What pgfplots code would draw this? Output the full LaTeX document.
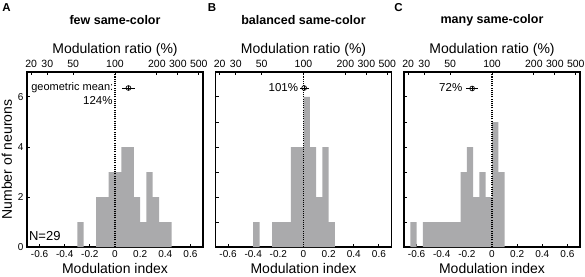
\documentclass[border=0pt]{standalone}
\usepackage{pgfplots}
\pgfplotsset{compat=1.18}
\usepackage{fontspec}
\setmainfont{Liberation Sans}
\definecolor{bargray}{RGB}{170,170,172}
\pgfplotsset{
  panel/.style={scale only axis, width=176pt, height=175pt, anchor=south west,
    xmin=-0.7, xmax=0.7, ymin=0, ymax=7,
    tick align=inside,
    axis line style={line width=1.1pt},
    every tick/.style={black, line width=1pt},
    major tick length=3pt,
    tick label style={font=\fontsize{10}{11}\selectfont},
    label style={font=\fontsize{14}{16}\selectfont},
    xtick={-0.6,-0.4,-0.2,0,0.2,0.4,0.6},
    xticklabels={-0.6,-0.4,-0.2,0,0.2,0.4,0.6},
    xtick pos=left, ytick pos=left,
    xlabel={Modulation index},
    x label style={at={(axis description cs:0.5,-0.122)}, anchor=center},
    clip=false},
  toppanel/.style={scale only axis, width=176pt, height=175pt, anchor=south west,
    xmin=-0.7, xmax=0.7, ymin=0, ymax=7,
    axis x line*=top, axis y line=none, ytick=\empty,
    tick align=inside,
    axis line style={line width=1.1pt, -},
    every tick/.style={black, line width=1pt},
    major tick length=3pt,
    tick label style={font=\fontsize{10.5}{11}\selectfont},
    xticklabel style={yshift=1pt},
    label style={font=\fontsize{14}{16}\selectfont},
    xtick={-0.66667,-0.53846,-0.33333,0,0.33333,0.5,0.66667},
    xticklabels={20,30,50,100,200,300,500},
    xlabel={Modulation ratio (\%)},
    x label style={at={(axis description cs:0.5,1.126)}, anchor=center},
    clip=false},
  hist/.style={ybar interval, fill=bargray, draw=none},
  zline/.style={black, line width=1.1pt, dash pattern=on 1.1pt off 1.1pt},
  gm/.style={black, line width=0.7pt, only marks, mark=o, mark size=2.4pt,
    error bars/.cd, x dir=both, x explicit, error mark=none,
    error bar style={line width=0.7pt}},
  gmp/.style={black, line width=0.6pt, only marks, mark=+, mark size=2.4pt},
}
\begin{document}
\begin{tikzpicture}
\path[use as bounding box] (0,0) rectangle (585pt,276pt);
% ---------------- A ----------------
\begin{axis}[panel, at={(27pt,29pt)},
  ytick={0,2,4,6}, yticklabels={0,2,4,6},
  ylabel={Number of neurons},
  y label style={at={(axis description cs:-0.114,0.5)}, anchor=center}]
\addplot[hist] coordinates {(-0.3,1) (-0.25,0) (-0.2,0) (-0.15,2) (-0.1,2) (-0.05,3) (0,3) (0.05,4) (0.1,4) (0.15,2) (0.2,1) (0.25,3) (0.3,2) (0.35,1) (0.4,1) (0.45,0)};
\addplot[zline] coordinates {(0,0) (0,7)};
\addplot[gm] coordinates {(0.107,6.36) +- (0.05,0)};
\addplot[gmp] coordinates {(0.107,6.36)};
\node[anchor=east, font=\fontsize{11}{12}\selectfont, inner sep=0pt] at (axis cs:-0.012,6.38) {geometric mean:};
\node[anchor=east, font=\fontsize{11.5}{12}\selectfont, inner sep=0pt] at (axis cs:-0.018,5.86) {124\%};
\node[anchor=west, font=\fontsize{13}{14}\selectfont, inner sep=0pt] at (axis cs:-0.685,0.42) {N=29};
\end{axis}
\begin{axis}[toppanel, at={(27pt,29pt)}]
\node[font=\bfseries\fontsize{12.5}{14}\selectfont] at (axis description cs:0.5,1.297) {few same-color};
\end{axis}
% ---------------- B ----------------
\begin{axis}[panel, at={(215.5pt,29pt)},
  ytick={1,2,3,4,5,6}, yticklabels={}]
\addplot[hist] coordinates {(-0.4,1) (-0.35,0) (-0.3,0) (-0.25,1) (-0.2,1) (-0.15,1) (-0.1,4) (-0.05,4) (0,6) (0.05,4) (0.1,2) (0.15,4) (0.2,1) (0.25,0)};
\addplot[zline] coordinates {(0,0) (0,7)};
\addplot[gm] coordinates {(0.005,6.36) +- (0.035,0)};
\addplot[gmp] coordinates {(0.005,6.36)};
\node[anchor=east, font=\fontsize{11.5}{12}\selectfont, inner sep=0pt] at (axis cs:-0.042,6.36) {101\%};
\end{axis}
\begin{axis}[toppanel, at={(215.5pt,29pt)}]
\node[font=\bfseries\fontsize{12.5}{14}\selectfont] at (axis description cs:0.5,1.297) {balanced same-color};
\end{axis}
% ---------------- C ----------------
\begin{axis}[panel, at={(404pt,29pt)},
  ytick={1,2,3,4,5,6}, yticklabels={}]
\addplot[hist] coordinates {(-0.65,1) (-0.6,0) (-0.55,1) (-0.5,1) (-0.45,1) (-0.4,1) (-0.35,1) (-0.3,1) (-0.25,3) (-0.2,4) (-0.15,2) (-0.1,3) (-0.05,2) (0,5) (0.05,3) (0.1,0)};
\addplot[zline] coordinates {(0,0) (0,7)};
\addplot[gm] coordinates {(-0.158,6.34) +- (0.045,0)};
\addplot[gmp] coordinates {(-0.158,6.34)};
\node[anchor=east, font=\fontsize{11.5}{12}\selectfont, inner sep=0pt] at (axis cs:-0.235,6.36) {72\%};
\end{axis}
\begin{axis}[toppanel, at={(404pt,29pt)}]
\node[font=\bfseries\fontsize{12.5}{14}\selectfont] at (axis description cs:0.5,1.297) {many same-color};
\end{axis}
% panel letters
\node[font=\bfseries\fontsize{11.5}{13}\selectfont] at (6.5pt,268pt) {A};
\node[font=\bfseries\fontsize{11.5}{13}\selectfont] at (212pt,268pt) {B};
\node[font=\bfseries\fontsize{11.5}{13}\selectfont] at (398.5pt,268pt) {C};
\end{tikzpicture}
\end{document}
